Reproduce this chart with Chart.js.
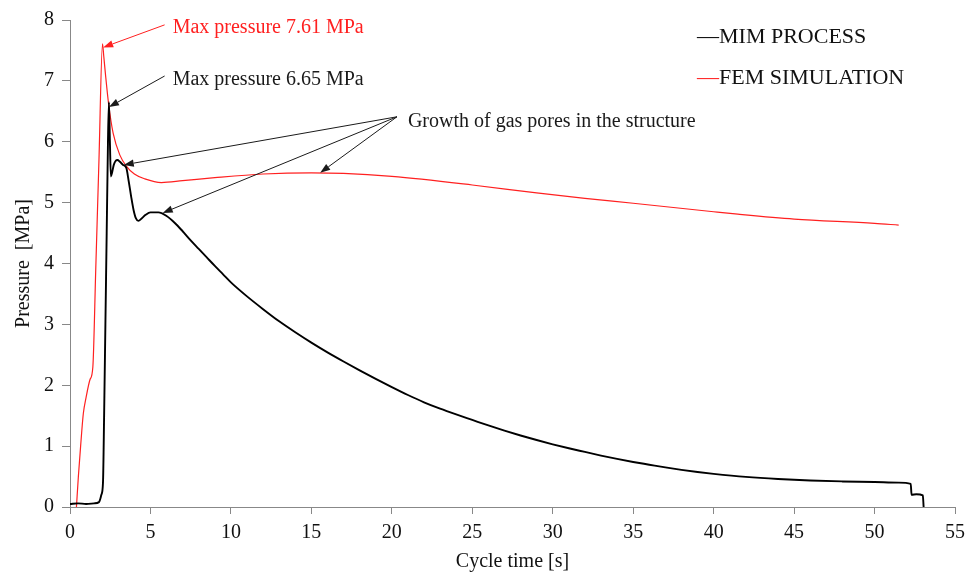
<!DOCTYPE html>
<html>
<head>
<meta charset="utf-8">
<script src="https://cdn.jsdelivr.net/npm/chart.js@4.4.1/dist/chart.umd.min.js"></script>
<style>
  html, body { margin: 0; padding: 0; background: #fff; overflow: hidden; }
  #wrap { width: 972px; height: 574px; position: relative; }
</style>
</head>
<body>
<div id="wrap"><canvas id="c" width="972" height="574"></canvas></div>
<script>
// Measured cavity pressure (moulding trial), time in s, pressure in MPa
const mimTime = [0, 0.5, 1.0, 1.5, 1.8, 1.95, 2.05, 2.12, 2.2, 2.28, 2.36, 2.42, 2.48, 2.54, 2.62, 2.72, 2.85, 2.95, 3.1, 3.3, 3.5, 3.65, 3.8, 3.95, 4.1, 4.25, 4.45, 4.7, 5.0, 5.5, 6.0, 6.5, 7, 7.5, 8, 8.5, 9, 9.5, 10, 11, 12, 13, 14, 15, 16, 17, 18, 19, 20, 21, 22, 23, 24, 25, 26, 27, 28, 29, 30, 31, 32, 33, 34, 35, 36, 37, 38, 39, 40, 42, 44, 46, 48, 50, 51.5, 52.25, 52.3, 52.6, 53.0, 53.05];
const mimPressure = [0.05, 0.06, 0.05, 0.06, 0.08, 0.2, 0.4, 1.5, 3.0, 4.5, 6.0, 6.65, 6.0, 5.43, 5.5, 5.62, 5.69, 5.7, 5.67, 5.62, 5.57, 5.35, 5.1, 4.88, 4.74, 4.7, 4.74, 4.8, 4.84, 4.84, 4.78, 4.67, 4.53, 4.38, 4.24, 4.1, 3.96, 3.825, 3.69, 3.46, 3.25, 3.05, 2.87, 2.7, 2.54, 2.39, 2.245, 2.105, 1.97, 1.84, 1.72, 1.615, 1.52, 1.43, 1.34, 1.255, 1.175, 1.1, 1.03, 0.965, 0.905, 0.845, 0.79, 0.74, 0.695, 0.65, 0.61, 0.575, 0.545, 0.495, 0.46, 0.435, 0.42, 0.41, 0.4, 0.38, 0.2, 0.21, 0.19, 0];

// Simulated cavity pressure
const femTime = [0.4, 0.52, 0.66, 0.83, 1.0, 1.24, 1.42, 1.6, 1.8, 2.02, 2.1, 2.2, 2.4, 2.68, 3.1, 3.5, 4.0, 4.65, 5.68, 7, 9, 12, 15, 17, 20, 25, 29, 32, 35, 40, 41.5, 45, 50, 51.5];
const femPressure = [0, 0.5, 1.0, 1.54, 1.8, 2.09, 2.3, 3.9, 5.7, 7.61, 7.4, 7.12, 6.62, 6.14, 5.78, 5.6, 5.47, 5.39, 5.33, 5.36, 5.41, 5.47, 5.49, 5.48, 5.43, 5.29, 5.16, 5.07, 4.99, 4.85, 4.81, 4.73, 4.66, 4.63];

const seriesNames = ['MIM PROCESS', 'FEM SIMULATION'];
const seriesColors = ['#000000', '#ff2020'];
const xTickValues = [0, 5, 10, 15, 20, 25, 30, 35, 40, 45, 50, 55];
const yTickValues = [0, 1, 2, 3, 4, 5, 6, 7, 8];

// Callout texts with their anchor (text start) and arrow tips, in data units
const callouts = [
  { text: 'Max pressure 7.61 MPa', color: '#ff2020', at: [6.38, 7.79], from: [5.88, 7.92], tips: [[2.06, 7.55]] },
  { text: 'Max pressure 6.65 MPa', color: '#1a1a1a', at: [6.38, 6.93], from: [5.88, 7.08], tips: [[2.42, 6.57]] },
  { text: 'Growth of gas pores in the structure', color: '#1a1a1a', at: [21.0, 6.25], from: [20.32, 6.41],
    tips: [[3.34, 5.62], [15.55, 5.49], [5.76, 4.83]] }
];

const FONT = '"Liberation Serif", "Times New Roman", serif';

function toPoints(xs, ys) { return xs.map((x, i) => ({ x: x, y: ys[i] })); }

const calloutPlugin = {
  id: 'callouts',
  afterDatasetsDraw(chart) {
    const { ctx, scales: { x, y } } = chart;
    ctx.save();
    callouts.forEach(c => {
      const fx = x.getPixelForValue(c.from[0]), fy = y.getPixelForValue(c.from[1]);
      c.tips.forEach(t => {
        const tx = x.getPixelForValue(t[0]), ty = y.getPixelForValue(t[1]);
        const ang = Math.atan2(ty - fy, tx - fx);
        const len = 10, hw = 3.6;
        const bx = tx - len * Math.cos(ang), by = ty - len * Math.sin(ang);
        ctx.strokeStyle = c.color;
        ctx.fillStyle = c.color;
        ctx.lineWidth = 1;
        ctx.beginPath();
        ctx.moveTo(fx, fy);
        ctx.lineTo(bx, by);
        ctx.stroke();
        ctx.beginPath();
        ctx.moveTo(tx, ty);
        ctx.lineTo(bx + hw * Math.sin(ang), by - hw * Math.cos(ang));
        ctx.lineTo(bx - hw * Math.sin(ang), by + hw * Math.cos(ang));
        ctx.closePath();
        ctx.fill();
      });
      ctx.font = '20px ' + FONT;
      ctx.fillStyle = c.color;
      ctx.textAlign = 'left';
      ctx.textBaseline = 'alphabetic';
      ctx.fillText(c.text, x.getPixelForValue(c.at[0]), y.getPixelForValue(c.at[1]));
    });

    // Series key in the upper right corner: coloured dash followed by the name
    const area = chart.chartArea;
    const lx = area.right - 258;
    ctx.font = '22px ' + FONT;
    ctx.textBaseline = 'alphabetic';
    chart.data.datasets.forEach((ds, i) => {
      const by = area.top + 23 + i * 40.6;
      ctx.fillStyle = ds.borderColor;
      ctx.fillText('\u2014', lx, by);
      const w = ctx.measureText('\u2014').width;
      ctx.fillStyle = '#111';
      ctx.fillText(ds.label, lx + w, by);
    });
    ctx.restore();
  }
};

const axisColor = '#888888';

new Chart(document.getElementById('c'), {
  type: 'scatter',
  data: {
    datasets: [
      {
        label: seriesNames[0],
        data: toPoints(mimTime, mimPressure),
        showLine: true,
        borderColor: seriesColors[0],
        borderWidth: 1.9,
        pointRadius: 0,
        cubicInterpolationMode: 'monotone'
      },
      {
        label: seriesNames[1],
        data: toPoints(femTime, femPressure),
        showLine: true,
        borderColor: seriesColors[1],
        borderWidth: 1.2,
        pointRadius: 0,
        cubicInterpolationMode: 'monotone'
      }
    ]
  },
  options: {
    responsive: false,
    animation: false,
    devicePixelRatio: 1,
    layout: { padding: { left: 0, right: 14, top: 20, bottom: 0 } },
    plugins: { legend: { display: false }, tooltip: { enabled: false } },
    scales: {
      x: {
        type: 'linear',
        min: xTickValues[0],
        max: xTickValues[xTickValues.length - 1],
        afterBuildTicks: s => { s.ticks = xTickValues.map(v => ({ value: v })); },
        afterFit: s => { s.height = 67; },
        ticks: { color: '#111', font: { family: FONT, size: 20 }, padding: 7, maxRotation: 0 },
        grid: { drawOnChartArea: false, drawTicks: true, tickLength: 7, color: axisColor },
        border: { color: axisColor, width: 1 },
        title: { display: true, text: 'Cycle time [s]', color: '#111', font: { family: FONT, size: 20 }, padding: { top: 0, bottom: 0 } }
      },
      y: {
        type: 'linear',
        min: yTickValues[0],
        max: yTickValues[yTickValues.length - 1],
        afterBuildTicks: s => { s.ticks = yTickValues.map(v => ({ value: v })); },
        afterFit: s => { s.width = 70; },
        ticks: { color: '#111', font: { family: FONT, size: 20 }, padding: 8 },
        grid: { drawOnChartArea: false, drawTicks: true, tickLength: 8, color: axisColor },
        border: { color: axisColor, width: 1 },
        title: { display: true, text: 'Pressure  [MPa]', color: '#111', font: { family: FONT, size: 20 }, padding: { top: 12, bottom: 0 } }
      }
    }
  },
  plugins: [calloutPlugin]
});
</script>
</body>
</html>
